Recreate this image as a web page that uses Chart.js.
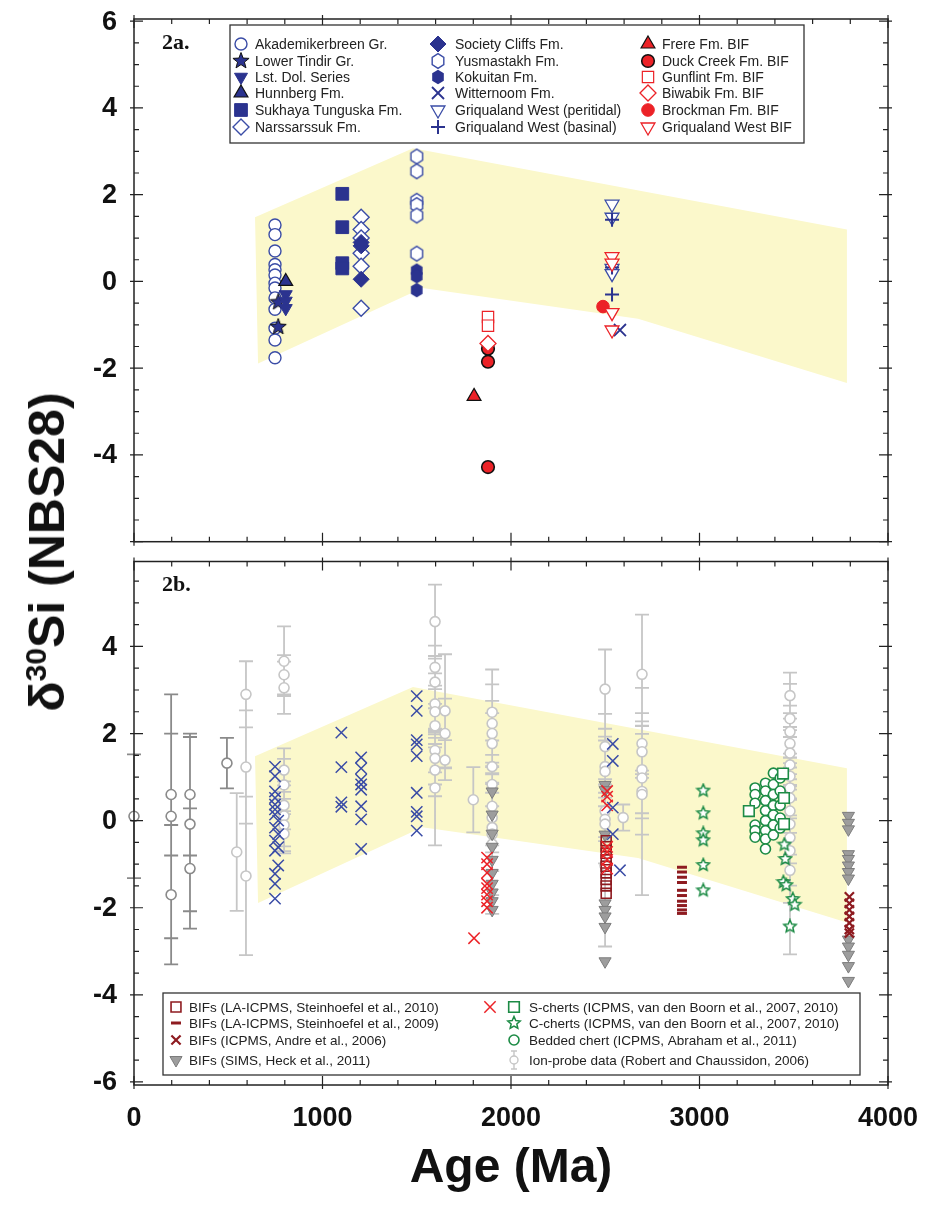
<!DOCTYPE html>
<html>
<head>
<meta charset="utf-8">
<script src="https://cdn.jsdelivr.net/npm/chart.js@4/dist/chart.umd.min.js"></script>
<style>
  body { margin: 0; background: #fff; width: 926px; height: 1210px; position: relative; overflow: hidden; }
  canvas { position: absolute; left: 0; }
  #chartTop { top: 0; }
  #chartBottom { top: 552px; }
  #yTitle {
    position: absolute; left: 47px; top: 552px;
    transform: translate(-50%, -50%) rotate(-90deg);
    font: bold 50px "Liberation Sans", Arial, sans-serif;
    white-space: nowrap; color: #111;
  }
  #yTitle sup { font-size: 60%; vertical-align: 0.6em; line-height: 0; }
</style>
</head>
<body>
<canvas id="chartTop" width="926" height="552"></canvas>
<canvas id="chartBottom" width="926" height="658"></canvas>
<div id="yTitle">δ<sup>30</sup>Si (NBS28)</div>
<script>
// axis ticks
const xTickLabels = [0, 1000, 2000, 3000, 4000]
const yTickLabelsTop = [6, 4, 2, 0, -2, -4]
const yTickLabelsBottom = [4, 2, 0, -2, -4, -6]

// yellow envelope, [age, d30Si]
const bandUpper = [[642, 1.48], [1480, 3.07], [3782, 1.2]]
const bandLower = [[658, -1.89], [1530, -0.15], [2674, -0.86], [3782, -2.34]]

// panel 2a, [age, d30Si]
const akademikerbreen = [[748, 1.3], [748, 1.08], [748, 0.7], [748, 0.39], [748, 0.27], [748, 0.15], [748, -0.04], [748, -0.15], [748, -0.38], [748, -0.64], [748, -1.08], [748, -1.35], [748, -1.76]]
const lowerTindir = [[765, -0.48], [765, -1.05]]
const lstDolSeries = [[805, -0.3], [805, -0.45], [805, -0.62]]
const hunnberg = [[805, 0.0]]
const sukhayaTunguska = [[1105, 2.02], [1105, 1.25], [1105, 0.42], [1105, 0.3]]
const narssarssuk = [[1205, 1.48], [1205, 1.2], [1205, 1.0], [1205, 0.65], [1205, 0.35], [1205, -0.62]]
const societyCliffs = [[1205, 0.9], [1205, 0.82], [1205, 0.05]]
const yusmastakh = [[1500, 2.88], [1500, 2.54], [1500, 1.86], [1500, 1.76], [1500, 1.52], [1500, 0.64]]
const kokuitan = [[1500, 0.25], [1500, 0.12], [1500, -0.2]]
const wittenoom = [[2578, -1.12]]
const griqPeritidal = [[2536, 1.78], [2536, 1.48], [2536, 0.3], [2536, 0.18]]
const griqBasinal = [[2536, 1.42], [2536, 0.32], [2536, -0.3]]
const frere = [[1804, -2.65]]
const duckCreek = [[1878, -1.55], [1878, -1.85], [1878, -4.28]]
const gunflint = [[1878, -0.82], [1878, -1.02]]
const biwabik = [[1878, -1.43]]
const brockman = [[2488, -0.58]]
const griqBIF = [[2536, 0.57], [2536, 0.42], [2536, -0.72], [2536, -1.12]]

// panel 2b, [age, d30Si] or [age, d30Si, error]
const ionProbeOld = [[0, 0.1, 1.42], [197, 0.6, 1.4], [197, 0.1, 2.8], [197, -1.7, 1.6], [297, 0.6, 1.4], [297, -0.08, 2.0], [297, -1.1, 1.38], [493, 1.32, 0.58]]
const ionProbe = [
  [545, -0.72, 1.35], [594, 2.9, 0.76], [594, 1.23, 1.3], [594, -1.27, 1.82],
  [796, 3.66, 0.8], [796, 3.35, 0.45], [796, 3.05, 0.6], [796, 1.16, 0.5], [796, 0.82, 0.6], [796, 0.35, 0.55], [796, 0.11, 0.7], [796, -0.1, 0.6], [796, -0.3, 0.45],
  [1597, 4.57, 0.85], [1597, 3.52, 0.5], [1597, 3.18, 0.6], [1597, 2.68, 0.7], [1597, 2.5, 0.6], [1597, 2.18, 0.5], [1597, 1.61, 0.5], [1597, 1.43, 0.6], [1597, 1.16, 0.6], [1597, 0.75, 1.32],
  [1650, 2.52, 1.3], [1650, 2.0, 0.8], [1650, 1.39, 0.46],
  [1800, 0.48, 0.75],
  [1900, 2.49, 0.98], [1900, 2.23, 0.9], [1900, 2.0, 0.75], [1900, 1.77, 0.7], [1900, 1.24, 0.6], [1900, 0.83, 0.5], [1900, 0.33, 0.9], [1900, 0.07, 0.8], [1900, -0.16, 1.0], [1900, -0.31, 1.4], [1900, -0.54, 1.6],
  [2499, 3.02, 0.91], [2499, 1.7, 0.75], [2499, 1.24, 0.6], [2499, 1.13, 0.8], [2499, 0.22, 0.6], [2499, 0.03, 0.5], [2499, -0.08, 0.9], [2499, -1.03, 1.86],
  [2595, 0.07, 0.3],
  [2695, 3.36, 1.37], [2695, 1.77, 0.7], [2695, 1.58, 0.6], [2695, 1.17, 1.0], [2695, 0.98, 1.3], [2695, 0.67, 2.38], [2695, 0.6, 0.55],
  [3480, 2.87, 0.53], [3480, 2.34, 0.8], [3480, 2.04, 0.6], [3480, 1.77, 0.7], [3480, 1.55, 0.6], [3480, 1.28, 0.8], [3480, 1.02, 0.9], [3480, 0.75, 0.7], [3480, 0.52, 0.8], [3480, 0.22, 1.0], [3480, -0.08, 0.9], [3480, -0.39, 1.1], [3480, -0.69, 1.2], [3480, -1.14, 1.93]
]
const bifsSims = [
  [1900, 0.67], [1900, 0.14], [1900, -0.3], [1900, -0.6], [1900, -0.9], [1900, -1.2], [1900, -1.45], [1900, -1.65], [1900, -1.85], [1900, -2.05],
  [2499, 0.82], [2499, 0.7], [2499, -0.32], [2499, -1.9], [2499, -2.05], [2499, -2.2], [2499, -2.44], [2499, -3.23],
  [3790, 0.11], [3790, -0.05], [3790, -0.2], [3790, -0.77], [3790, -0.88], [3790, -1.03], [3790, -1.18], [3790, -1.33], [3790, -2.73], [3790, -2.89], [3790, -3.08], [3790, -3.34], [3790, -3.68]
]
const bifsLa2010 = [[2505, -0.46], [2505, -0.6], [2505, -0.75], [2505, -0.9], [2505, -1.05], [2505, -1.2], [2505, -1.35], [2505, -1.5], [2505, -1.67]]
const bifsLa2009 = [[2907, -1.07], [2907, -1.18], [2907, -1.3], [2907, -1.42], [2907, -1.6], [2907, -1.72], [2907, -1.85], [2907, -1.95], [2907, -2.05], [2907, -2.13]]
const bifsAndre = [[3795, -1.75], [3795, -1.9], [3795, -2.05], [3795, -2.2], [3795, -2.35], [3795, -2.5], [3795, -2.58]]
const panelABlue = [
  [748, 1.24], [748, 1.02], [748, 0.67], [748, 0.52], [748, 0.37], [748, 0.26], [748, 0.14], [765, 0.0], [748, -0.16], [765, -0.31], [748, -0.46], [765, -0.61], [748, -0.69], [765, -1.03], [748, -1.22], [748, -1.45], [748, -1.79],
  [1100, 2.02], [1100, 1.23], [1100, 0.42], [1100, 0.32],
  [1205, 1.45], [1205, 1.2], [1205, 0.94], [1205, 0.83], [1205, 0.71], [1205, 0.33], [1205, 0.03], [1205, -0.65],
  [1500, 2.86], [1500, 2.52], [1500, 1.85], [1500, 1.75], [1500, 1.48], [1500, 0.64], [1500, 0.2], [1500, 0.1], [1500, -0.23],
  [2540, 1.76], [2540, 1.37], [2540, 0.3], [2540, -0.31], [2578, -1.14]
]
const panelARed = [
  [1804, -2.7],
  [1873, -0.85], [1873, -1.0], [1873, -1.2], [1873, -1.45], [1873, -1.55], [1873, -1.7], [1873, -1.85], [1873, -2.0],
  [2510, 0.68], [2510, 0.55], [2510, 0.35], [2510, -0.6], [2510, -0.72], [2510, -0.9], [2510, -1.1]
]
const sCherts = [[3262, 0.22], [3443, 1.08], [3448, 0.52], [3448, -0.08]]
const cCherts = [[3020, 0.69], [3020, 0.17], [3020, -0.29], [3020, -0.45], [3020, -1.02], [3020, -1.6], [3450, -0.55], [3455, -0.88], [3445, -1.41], [3460, -1.48], [3495, -1.8], [3505, -1.93], [3480, -2.43]]
const beddedChert = [
  [3295, 0.75], [3295, 0.6], [3295, 0.4], [3295, -0.1], [3295, -0.23], [3295, -0.38],
  [3350, 0.86], [3350, 0.68], [3350, 0.46], [3350, 0.23], [3350, 0.0], [3350, -0.23], [3350, -0.42], [3350, -0.65],
  [3392, 1.09], [3392, 0.83], [3392, 0.6], [3392, 0.35], [3392, 0.13], [3392, -0.1], [3392, -0.33],
  [3428, 0.98], [3428, 0.68], [3428, 0.35], [3428, 0.06], [3428, -0.17]
]

const BLUE = '#3a4ca6', NAVY = '#2b338f', RED = '#ec2227', DARKRED = '#8e1b20', GREEN = '#1c8b45'
const GRAY = '#c6c6c6', DKGRAY = '#8a8a8a', BAND = '#fbf8cb', INK = '#222'
const FONT = '"Liberation Sans", Arial, sans-serif'

function markerCanvas(size, draw) {
  const c = document.createElement('canvas')
  c.width = c.height = size
  const g = c.getContext('2d')
  g.translate(size / 2, size / 2)
  draw(g)
  return c
}
function starPath(g, R, r) {
  g.beginPath()
  for (let i = 0; i < 10; i++) {
    const a = -Math.PI / 2 + i * Math.PI / 5, d = i % 2 ? r : R
    g.lineTo(d * Math.cos(a), d * Math.sin(a))
  }
  g.closePath()
}
function hexPath(g, R) {
  g.beginPath()
  for (let i = 0; i < 6; i++) {
    const a = -Math.PI / 2 + i * Math.PI / 3
    g.lineTo(R * 0.92 * Math.cos(a), R * Math.sin(a))
  }
  g.closePath()
}
const starNavy = markerCanvas(20, g => { starPath(g, 8.5, 3.6); g.fillStyle = NAVY; g.fill(); g.lineWidth = 1; g.strokeStyle = '#111'; g.stroke() })
const starGreen = markerCanvas(16, g => { starPath(g, 6.5, 3); g.fillStyle = '#fff'; g.fill(); g.lineWidth = 1.5; g.strokeStyle = GREEN; g.stroke() })
const hexOpen = markerCanvas(18, g => { hexPath(g, 7.3); g.fillStyle = '#fff'; g.fill(); g.lineWidth = 1.4; g.strokeStyle = BLUE; g.stroke() })
const hexFilled = markerCanvas(18, g => { hexPath(g, 7.3); g.fillStyle = NAVY; g.fill() })

const topSeries = [
  { label: 'Akademikerbreen Gr.', data: akademikerbreen, style: 'circle', r: 6, fill: '#fff', stroke: BLUE, lw: 1.4 },
  { label: 'Lower Tindir Gr.', data: lowerTindir, style: starNavy, r: 8 },
  { label: 'Lst. Dol. Series', data: lstDolSeries, style: 'triangle', rot: 180, r: 7.5, fill: NAVY, stroke: NAVY, lw: 1 },
  { label: 'Hunnberg Fm.', data: hunnberg, style: 'triangle', r: 8, fill: NAVY, stroke: '#111', lw: 1.2 },
  { label: 'Sukhaya Tunguska Fm.', data: sukhayaTunguska, style: 'rect', r: 9, fill: NAVY, stroke: NAVY, lw: 1 },
  { label: 'Narssarssuk Fm.', data: narssarssuk, style: 'rectRot', r: 8, fill: '#fff', stroke: BLUE, lw: 1.4 },
  { label: 'Society Cliffs Fm.', data: societyCliffs, style: 'rectRot', r: 8, fill: NAVY, stroke: NAVY, lw: 1 },
  { label: 'Yusmastakh Fm.', data: yusmastakh, style: hexOpen, r: 7 },
  { label: 'Kokuitan Fm.', data: kokuitan, style: hexFilled, r: 7 },
  { label: 'Witternoom Fm.', data: wittenoom, style: 'crossRot', r: 8.5, fill: NAVY, stroke: NAVY, lw: 1.8 },
  { label: 'Griqualand West (peritidal)', data: griqPeritidal, style: 'triangle', rot: 180, r: 8, fill: '#fff', stroke: BLUE, lw: 1.3 },
  { label: 'Griqualand West (basinal)', data: griqBasinal, style: 'cross', r: 7, fill: NAVY, stroke: NAVY, lw: 2 },
  { label: 'Frere Fm. BIF', data: frere, style: 'triangle', r: 8, fill: RED, stroke: '#111', lw: 1.2 },
  { label: 'Duck Creek Fm. BIF', data: duckCreek, style: 'circle', r: 6.3, fill: RED, stroke: '#111', lw: 1.6 },
  { label: 'Gunflint Fm. BIF', data: gunflint, style: 'rect', r: 8, fill: '#fff', stroke: RED, lw: 1.2 },
  { label: 'Biwabik Fm. BIF', data: biwabik, style: 'rectRot', r: 8, fill: '#fff', stroke: RED, lw: 1.3 },
  { label: 'Brockman Fm. BIF', data: brockman, style: 'circle', r: 6.3, fill: RED, stroke: RED, lw: 1 },
  { label: 'Griqualand West BIF', data: griqBIF, style: 'triangle', rot: 180, r: 8, fill: '#fff', stroke: RED, lw: 1.3 }
]

// drawn back to front
const bottomSeries = [
  { label: 'Ion-probe (old)', data: ionProbeOld, style: 'circle', r: 5, fill: '#fff', stroke: DKGRAY, lw: 1.6 },
  { label: 'Ion-probe data (Robert and Chaussidon, 2006)', data: ionProbe, style: 'circle', r: 5, fill: '#fff', stroke: GRAY, lw: 1.6 },
  { label: 'Bedded chert (ICPMS, Abraham et al., 2011)', data: beddedChert, style: 'circle', r: 5, fill: '#fff', stroke: GREEN, lw: 1.6 },
  { label: 'S-cherts (ICPMS, van den Boorn et al., 2007, 2010)', data: sCherts, style: 'rect', r: 7.5, fill: '#fff', stroke: GREEN, lw: 1.6 },
  { label: 'BIFs (SIMS, Heck et al., 2011)', data: bifsSims, style: 'triangle', rot: 180, r: 7, fill: '#9d9d9d', stroke: '#7c7c7c', lw: 1 },
  { label: 'BIFs (LA-ICPMS, Steinhoefel et al., 2010)', data: bifsLa2010, style: 'rect', r: 7, fill: 'rgba(255,255,255,0)', stroke: DARKRED, lw: 1.6 },
  { label: 'BIFs (LA-ICPMS, Steinhoefel et al., 2009)', data: bifsLa2009, style: 'line', r: 5, fill: DARKRED, stroke: DARKRED, lw: 3 },
  { label: 'BIFs (ICPMS, Andre et al., 2006)', data: bifsAndre, style: 'crossRot', r: 6.5, fill: DARKRED, stroke: DARKRED, lw: 2.2 },
  { label: 'Panel a BIFs', data: panelARed, style: 'crossRot', r: 8, fill: RED, stroke: RED, lw: 1.5 },
  { label: 'Panel a formations', data: panelABlue, style: 'crossRot', r: 8, fill: BLUE, stroke: BLUE, lw: 1.5 },
  { label: 'C-cherts (ICPMS, van den Boorn et al., 2007, 2010)', data: cCherts, style: starGreen, r: 7 }
]

function toDataset(s, order) {
  return {
    label: s.label,
    data: s.data.map(p => ({ x: p[0], y: p[1] })),
    pointStyle: s.style,
    pointRadius: s.r,
    pointRotation: s.rot || 0,
    pointBackgroundColor: s.fill || '#fff',
    pointBorderColor: s.stroke || INK,
    pointBorderWidth: s.lw || 1,
    order: order,
    clip: false
  }
}

function drawMarker(ctx, s, x, y) {
  if (typeof s.style !== 'string') {
    ctx.drawImage(s.style, x - s.style.width / 2, y - s.style.height / 2)
    return
  }
  ctx.save()
  ctx.fillStyle = s.fill
  ctx.strokeStyle = s.stroke
  ctx.lineWidth = s.lw
  Chart.helpers.drawPoint(ctx, { pointStyle: s.style, radius: s.r, rotation: s.rot || 0, borderWidth: s.lw }, x, y)
  ctx.restore()
}

function drawErrorBars(chart, points, color, lw) {
  const { ctx, scales: { x, y } } = chart
  ctx.save()
  ctx.strokeStyle = color
  ctx.lineWidth = lw
  ctx.beginPath()
  points.forEach(([age, v, e]) => {
    const px = x.getPixelForValue(age)
    const lo = y.getPixelForValue(v - e), hi = y.getPixelForValue(v + e)
    ctx.moveTo(px, lo); ctx.lineTo(px, hi)
    ctx.moveTo(px - 7, lo); ctx.lineTo(px + 7, lo)
    ctx.moveTo(px - 7, hi); ctx.lineTo(px + 7, hi)
  })
  ctx.stroke()
  ctx.restore()
}

const panelPlugin = {
  id: 'panel',
  beforeDatasetsDraw(chart, args, opts) {
    const { ctx, scales: { x, y } } = chart
    ctx.save()
    ctx.fillStyle = BAND
    ctx.beginPath()
    bandUpper.concat(bandLower.slice().reverse()).forEach(([age, v]) => ctx.lineTo(x.getPixelForValue(age), y.getPixelForValue(v)))
    ctx.closePath()
    ctx.fill()
    ctx.restore()
    if (opts.errors) {
      drawErrorBars(chart, ionProbeOld, DKGRAY, 1.8)
      drawErrorBars(chart, ionProbe, GRAY, 1.8)
    }
  },
  afterDraw(chart, args, opts) {
    const { ctx, chartArea: a, scales: { x, y } } = chart
    ctx.save()
    // frame and inward ticks
    ctx.strokeStyle = INK
    ctx.lineWidth = 1.5
    ctx.strokeRect(a.left, a.top, a.width, a.height)
    ctx.lineWidth = 1.2
    ctx.beginPath()
    for (let v = 0; v <= 4000; v += 200) {
      const px = x.getPixelForValue(v), major = v % 1000 === 0
      const len = major ? 9 : 5, out = major ? 4 : 0
      ctx.moveTo(px, a.bottom + out); ctx.lineTo(px, a.bottom - len)
      ctx.moveTo(px, a.top - out); ctx.lineTo(px, a.top + len)
    }
    for (let k = Math.ceil(y.min * 2); k <= Math.floor(y.max * 2); k++) {
      const py = y.getPixelForValue(k / 2), major = k % 4 === 0
      const len = major ? 9 : 5, out = major ? 4 : 0
      ctx.moveTo(a.left - out, py); ctx.lineTo(a.left + len, py)
      ctx.moveTo(a.right + out, py); ctx.lineTo(a.right - len, py)
    }
    ctx.stroke()

    // tick labels
    ctx.fillStyle = '#111'
    ctx.font = 'bold 27px ' + FONT
    ctx.textAlign = 'right'
    ctx.textBaseline = 'middle'
    opts.yLabels.forEach(v => ctx.fillText(String(v), 117, y.getPixelForValue(v) + 1))
    if (opts.xLabels) {
      ctx.textAlign = 'center'
      xTickLabels.forEach(v => ctx.fillText(String(v), x.getPixelForValue(v), a.bottom + 34))
      ctx.font = 'bold 48px ' + FONT
      ctx.fillText('Age (Ma)', (a.left + a.right) / 2, a.bottom + 84)
    }

    // panel label
    ctx.font = 'bold 22px "Liberation Serif", "Times New Roman", serif'
    ctx.textAlign = 'left'
    ctx.fillText(opts.tag, 162, a.top + 24)

    // legend box
    const L = opts.legend
    ctx.fillStyle = '#fff'
    ctx.fillRect(L.box[0], L.box[1], L.box[2], L.box[3])
    ctx.strokeStyle = '#333'
    ctx.lineWidth = 1.3
    ctx.strokeRect(L.box[0], L.box[1], L.box[2], L.box[3])
    ctx.font = L.font
    L.items.forEach(it => {
      if (it.draw) it.draw(ctx, it.mx, it.y)
      else drawMarker(ctx, it.s, it.mx, it.y)
      if (it.extra) drawMarker(ctx, it.extra, it.ex, it.y)
      ctx.fillStyle = '#222'
      ctx.fillText(it.s ? it.s.label : it.label, it.tx, it.y + 1)
    })
    ctx.restore()
  }
}

// top legend layout: 3 columns x 6 rows
const topRows = [44, 61, 77, 93, 110, 127]
const topCols = [[241, 255], [438, 455], [648, 662]]
const topLegendItems = topSeries.map((s, i) => {
  const c = topCols[Math.floor(i / 6)]
  return { s: s, mx: c[0], tx: c[1], y: topRows[i % 6] }
})

const bRows = [455, 471, 488, 508]
const byLabel = l => bottomSeries.find(s => s.label === l)
const bottomLegendItems = [
  { s: byLabel('BIFs (LA-ICPMS, Steinhoefel et al., 2010)'), mx: 176, tx: 189, y: bRows[0] },
  { s: byLabel('BIFs (LA-ICPMS, Steinhoefel et al., 2009)'), mx: 176, tx: 189, y: bRows[1] },
  { s: byLabel('BIFs (ICPMS, Andre et al., 2006)'), mx: 176, tx: 189, y: bRows[2] },
  { s: byLabel('BIFs (SIMS, Heck et al., 2011)'), mx: 176, tx: 189, y: bRows[3] },
  { s: byLabel('S-cherts (ICPMS, van den Boorn et al., 2007, 2010)'), mx: 514, tx: 529, y: bRows[0], extra: byLabel('Panel a BIFs'), ex: 490 },
  { s: byLabel('C-cherts (ICPMS, van den Boorn et al., 2007, 2010)'), mx: 514, tx: 529, y: bRows[1] },
  { s: byLabel('Bedded chert (ICPMS, Abraham et al., 2011)'), mx: 514, tx: 529, y: bRows[2] },
  {
    label: 'Ion-probe data (Robert and Chaussidon, 2006)', mx: 514, tx: 529, y: bRows[3],
    draw(ctx, x, y) {
      ctx.save()
      ctx.strokeStyle = GRAY
      ctx.lineWidth = 1.4
      ctx.beginPath()
      ctx.moveTo(x, y - 9); ctx.lineTo(x, y + 9)
      ctx.moveTo(x - 3, y - 9); ctx.lineTo(x + 3, y - 9)
      ctx.moveTo(x - 3, y + 9); ctx.lineTo(x + 3, y + 9)
      ctx.stroke()
      ctx.beginPath()
      ctx.arc(x, y, 4, 0, Math.PI * 2)
      ctx.fillStyle = '#fff'
      ctx.fill()
      ctx.stroke()
      ctx.restore()
    }
  }
]

function makeChart(id, series, yMin, yMax, padding, panelOpts) {
  const n = series.length
  return new Chart(document.getElementById(id), {
    type: 'scatter',
    data: { datasets: series.map((s, i) => toDataset(s, n - i)) },
    options: {
      responsive: false,
      animation: false,
      events: [],
      layout: { padding: padding },
      scales: {
        x: { type: 'linear', display: false, min: 0, max: 4000 },
        y: { type: 'linear', display: false, min: yMin, max: yMax }
      },
      plugins: { legend: { display: false }, tooltip: { enabled: false }, panel: panelOpts }
    },
    plugins: [panelPlugin]
  })
}

makeChart('chartTop', topSeries, -6, 6.05, { left: 134, right: 38, top: 19, bottom: 3 }, {
  tag: '2a.', yLabels: yTickLabelsTop, xLabels: false, errors: false,
  legend: { box: [230, 25, 574, 118], font: '14px ' + FONT, items: topLegendItems }
})

makeChart('chartBottom', bottomSeries, -6.07, 5.95, { left: 134, right: 38, top: 4, bottom: 125 }, {
  tag: '2b.', yLabels: yTickLabelsBottom, xLabels: true, errors: true,
  legend: { box: [163, 441, 697, 82], font: '13.5px ' + FONT, items: bottomLegendItems }
})
</script>
</body>
</html>
